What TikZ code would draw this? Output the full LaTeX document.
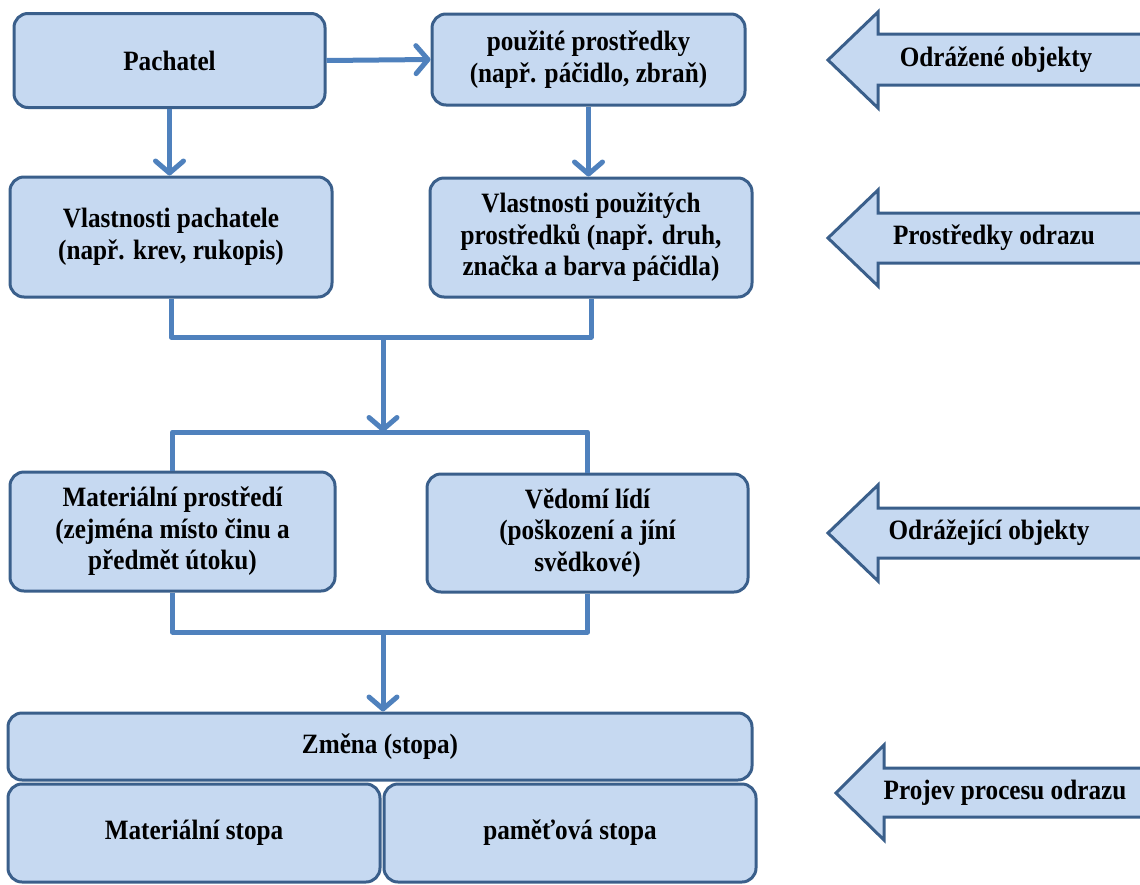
\documentclass[tikz,border=0pt]{standalone}
\usepackage{fontspec}
\setmainfont[FakeStretch=0.9]{Liberation Serif}
\usetikzlibrary{arrows.meta}
\definecolor{boxfill}{HTML}{C6D9F1}
\definecolor{boxline}{HTML}{3A5F8B}
\definecolor{connc}{HTML}{4F81BD}
\begin{document}
\begin{tikzpicture}[x=1pt,y=-1pt,
  box/.style={draw=boxline, fill=boxfill, line width=3pt, rounded corners=14pt,
    align=center, font=\fontsize{28}{31.5}\selectfont\bfseries, inner sep=0pt},
  bigarrow/.style={draw=boxline, fill=boxfill, line width=3pt},
  alabel/.style={font=\fontsize{28}{31}\selectfont\bfseries, inner sep=0pt},
  conn/.style={draw=connc, line width=5pt},
  arr/.style={conn, -{Straight Barb[length=12pt,width=28pt,round]}}
]
\useasboundingbox (0,0) rectangle (1140,884);

% right-hand arrows
\draw[bigarrow] (828,60) -- (878,12) -- (878,34) -- (1145,34) -- (1145,85) -- (878,85) -- (878,108) -- cycle;
\node[alabel] (a1) at (996,60) {Odrážené objekty};
\draw[bigarrow] (828,238) -- (878,190) -- (878,213) -- (1145,213) -- (1145,263) -- (878,263) -- (878,286) -- cycle;
\node[alabel] (a2) at (994,238) {Prostředky odrazu};
\draw[bigarrow] (828,533) -- (878,485) -- (878,508) -- (1145,508) -- (1145,558) -- (878,558) -- (878,581) -- cycle;
\node[alabel] (a3) at (989,533) {Odrážející objekty};
\draw[bigarrow] (836,793) -- (884,745) -- (884,768) -- (1145,768) -- (1145,817) -- (884,817) -- (884,840) -- cycle;
\node[alabel] (a4) at (1005,793) {Projev procesu odrazu};

% boxes
\node[box, minimum width=311pt, minimum height=94pt] (pach) at (169.5,60.5) {Pachatel};
\node[box, minimum width=313pt, minimum height=91pt] (pouz) at (588.5,59.5) {použité prostředky\\(např. páčidlo, zbraň)};
\node[box, minimum width=322pt, minimum height=120pt] (vp) at (171,237) {Vlastnosti pachatele\\(např. krev, rukopis)};
\node[box, minimum width=322pt, minimum height=119pt] (vpp) at (591,237.5) {Vlastnosti použitých\\prostředků (např. druh,\\značka a barva páčidla)};
\node[box, minimum width=325pt, minimum height=119pt] (mat) at (172.5,531.5) {Materiální prostředí\\(zejména místo činu a\\předmět útoku)};
\node[box, minimum width=321pt, minimum height=118pt] (ved) at (587.5,533) {Vědomí lídí\\(poškození a jíní\\svědkové)};
\node[box, minimum width=744pt, minimum height=67pt] (zm) at (380,746.5) {Změna (stopa)};
\node[box, minimum width=372pt, minimum height=98pt] (ms) at (194,833) {Materiální stopa};
\node[box, minimum width=372pt, minimum height=98pt] (ps) at (570,833) {paměťová stopa};

% connectors
\draw[arr] (pach.east) -- (pouz.west);
\draw[arr] (pach.south) -- (pach.south |- vp.north);
\draw[arr] (pouz.south) -- (pouz.south |- vpp.north);

\coordinate (m1) at (383,337);
\coordinate (m2) at (383,432);
\draw[conn, line join=round] (vp.south) -- (vp.south |- m1) -- (vpp.south |- m1) -- (vpp.south);
\draw[arr] (m1) -- (m2);
\draw[conn, line join=round] (mat.north) -- (mat.north |- m2) -- (ved.north |- m2) -- (ved.north);

\coordinate (m3) at (383,632);
\draw[conn, line join=round] (mat.south) -- (mat.south |- m3) -- (ved.south |- m3) -- (ved.south);
\draw[arr] (m3) -- (zm.north -| m3);
\end{tikzpicture}
\end{document}
